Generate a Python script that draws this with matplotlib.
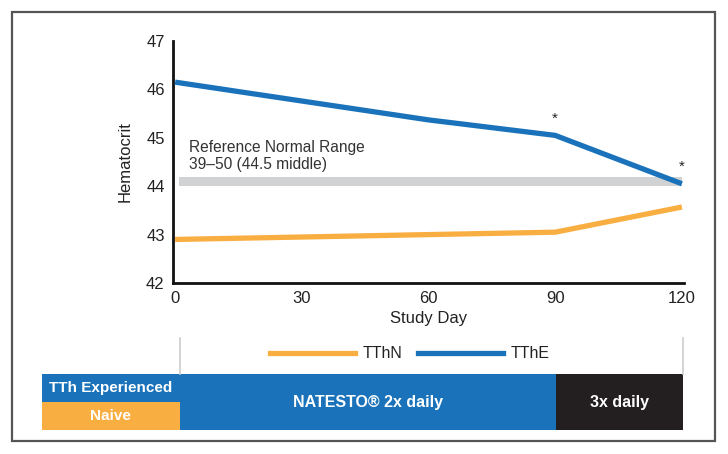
import matplotlib
matplotlib.use("Agg")
import matplotlib.pyplot as plt
from matplotlib.patches import Rectangle
from matplotlib.lines import Line2D

plt.rcParams['font.family'] = ['Liberation Sans', 'DejaVu Sans']

# ---- data ----
days = [0, 30, 60, 90, 120]
tthe = [46.15, 45.76, 45.37, 45.05, 44.05]
tthn = [42.90, 42.95, 43.00, 43.05, 43.57]
ref_low, ref_high = 44.0, 44.2
ref_x = [1, 120]
star_days = [90, 120]
star_vals = [45.40, 44.40]
xticks = [0, 30, 60, 90, 120]
yticks = [42, 43, 44, 45, 46, 47]

# phases on bottom bar (start day, end day, label)
phase_starts = [0, 90]
phase_ends = [90, 120]
phase_labels = ["NATESTO\u00ae 2x daily", "3x daily"]
pre_start = -31.5
group_labels = ["TTh Experienced", "Naive"]

BLUE = "#1a73ba"
ORANGE = "#f9ae42"
GRAY = "#d1d2d4"
BLACK = "#231f20"

W, H = 728, 454
fig = plt.figure(figsize=(W / 100, H / 100), dpi=100)

def fx(px):
    return px / W

def fy(py):
    return 1 - py / H

# outer frame
fig.add_artist(Rectangle((fx(12), fy(441)), fx(715) - fx(12), fy(12) - fy(441),
                         transform=fig.transFigure, fill=False,
                         edgecolor="#555555", lw=1.6))

# ---- main axes ----
ax = fig.add_axes([fx(173), fy(283), fx(684) - fx(173), fy(41) - fy(283)])
ax.set_xlim(-0.5, 120.5)
ax.set_ylim(42, 47)
ax.fill_between(ref_x, ref_low, ref_high, color=GRAY, lw=0, zorder=1)
ax.plot(days, tthn, color=ORANGE, lw=3.8, solid_capstyle='butt', zorder=3)
ax.plot(days, tthe, color=BLUE, lw=3.8, solid_capstyle='butt', zorder=3)
for d, v in zip(star_days, star_vals):
    ax.text(d, v, "*", ha='center', va='center', fontsize=11, color="#222222")
ax.text(3.3, 44.30, "Reference Normal Range\n39\u201350 (44.5 middle)",
        ha='left', va='bottom', fontsize=11.2, color="#333333", linespacing=1.15)

for s in ['top', 'right']:
    ax.spines[s].set_visible(False)
ax.spines['left'].set_linewidth(2)
ax.spines['bottom'].set_linewidth(2)
ax.spines['left'].set_color("#111111")
ax.spines['bottom'].set_color("#111111")
ax.set_xticks(xticks)
ax.set_yticks(yticks)
ax.tick_params(length=0, labelsize=12, colors="#222222", pad=6)
ax.set_xlabel("Study Day", fontsize=12, color="#222222", labelpad=3)
ax.set_ylabel("Hematocrit", fontsize=12, color="#222222", labelpad=10)

# ---- bottom phase bar ----
bx = fig.add_axes([fx(42), fy(430), fx(683) - fx(42), fy(374) - fy(430)])
bx.set_xlim(pre_start, 120)
bx.set_ylim(0, 2)
bx.axis('off')
bx.add_patch(Rectangle((pre_start, 1.0), 0 - pre_start + 1, 1.0, color=BLUE, lw=0))
bx.add_patch(Rectangle((pre_start, 0.0), 0 - pre_start + 1, 1.0, color=ORANGE, lw=0))
phase_colors = [BLUE, BLACK]
for s, e, lab, c in zip(phase_starts, phase_ends, phase_labels, phase_colors):
    s2 = s + 1 if s == 0 else s
    bx.add_patch(Rectangle((s2, 0), e - s2, 2, color=c, lw=0))
    bx.text((s2 + e) / 2, 1.0, lab, ha='center', va='center', color='white',
            fontsize=11.5, fontweight='bold')
mid_pre = (pre_start + 1) / 2
bx.text(mid_pre, 1.5, group_labels[0], ha='center', va='center', color='white',
        fontsize=11, fontweight='bold')
bx.text(mid_pre, 0.5, group_labels[1], ha='center', va='center', color='white',
        fontsize=11, fontweight='bold')
for xv in [1, 120]:
    bx.plot([xv, xv], [2, 3.3], color="#cccccc", lw=1.2, clip_on=False)

# ---- legend ----
handles = [Line2D([0], [0], color=ORANGE, lw=3.8),
           Line2D([0], [0], color=BLUE, lw=3.8)]
fig.legend(handles, ["TThN", "TThE"], ncol=2, frameon=False,
           loc='center', bbox_to_anchor=(fx(410), fy(354)),
           fontsize=11.5, handlelength=5.3, handletextpad=0.5, columnspacing=1.0,
           labelcolor="#222222")

fig.savefig("out.png", dpi=100)
